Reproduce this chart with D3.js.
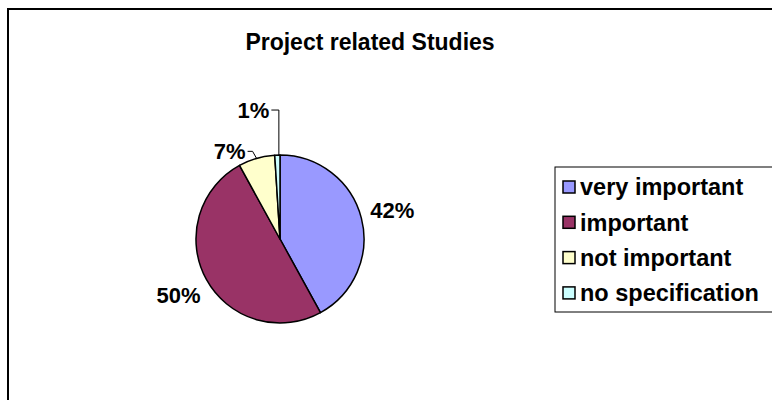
<!DOCTYPE html>
<html><head><meta charset="utf-8">
<script src="https://cdn.jsdelivr.net/npm/d3@7/dist/d3.min.js"></script>
<style>body{margin:0;background:#fff}svg{display:block}text{font-family:"Liberation Sans",Arial,sans-serif;font-weight:bold;fill:#000}</style>
</head><body>
<svg id="c" width="772" height="400"></svg>
<script>
const title = "Project related Studies";
const categories = ["very important", "important", "not important", "no specification"];
const values = [42, 50, 7, 1];
const colors = ["#9999FF", "#993366", "#FFFFCC", "#CCFFFF"];

const svg = d3.select("#c");
// outer frame (extends beyond the picture right and bottom)
svg.append("rect").attr("x", 8).attr("y", 9).attr("width", 800).attr("height", 420)
  .attr("fill", "#fff").attr("stroke", "#000").attr("stroke-width", 2);

svg.append("text").attr("x", 370).attr("y", 50).attr("text-anchor", "middle")
  .style("font-size", "23px").text(title);

const cx = 280, cy = 239, r = 84;
const pie = d3.pie().sort(null).value(d => d)(values);
const arc = d3.arc().innerRadius(0).outerRadius(r);
const g = svg.append("g").attr("transform", `translate(${cx},${cy})`);
g.selectAll("path").data(pie).join("path")
  .attr("d", arc).attr("fill", (d, i) => colors[i])
  .attr("stroke", "#000").attr("stroke-width", 1.5).attr("stroke-linejoin", "round");

const total = d3.sum(values);
const fmt = v => Math.round(v / total * 100) + "%";
let smallIdx = 0;
pie.forEach((d, i) => {
  const a = (d.startAngle + d.endAngle) / 2;
  const pct = fmt(d.value);
  if (d.value / total >= 0.1) {
    const lr = r * 1.38;
    const x = Math.sin(a) * lr, y = -Math.cos(a) * lr;
    g.append("text").attr("x", x).attr("y", y).attr("dy", "0.35em")
      .attr("text-anchor", "middle").style("font-size", "22px").text(pct);
  } else {
    const ex = Math.sin(a) * r, ey = -Math.cos(a) * r;
    const lift = smallIdx === 0 ? 7 : 45;
    const ly = ey - lift;
    const tx = ex - (smallIdx === 0 ? 10 : 7);
    const elbowX = smallIdx === 0 ? ex - 4 : ex + 1.5;
    g.append("path")
      .attr("d", `M${tx + 1},${ly} L${elbowX},${ly} L${smallIdx === 0 ? ex : elbowX},${ey}`)
      .attr("fill", "none").attr("stroke", "#000").attr("stroke-width", 1);
    g.append("text").attr("x", tx - 1).attr("y", ly).attr("dy", "0.35em")
      .attr("text-anchor", "end").style("font-size", "22px").text(pct);
    smallIdx++;
  }
});

// legend
const lx = 555, ly0 = 167, lw = 230, lh = 145, rowH = 35.3, firstY = 187;
svg.append("rect").attr("x", lx).attr("y", ly0).attr("width", lw).attr("height", lh)
  .attr("fill", "#fff").attr("stroke", "#000").attr("stroke-width", 1);
const lg = svg.append("g");
categories.forEach((c, i) => {
  const y = firstY + i * rowH;
  lg.append("rect").attr("x", 563).attr("y", y - 6).attr("width", 12).attr("height", 12)
    .attr("fill", colors[i]).attr("stroke", "#000").attr("stroke-width", 1.5);
  lg.append("text").attr("x", 580).attr("y", y).attr("dy", "0.35em")
    .style("font-size", "23.5px").text(c);
});
</script>
</body></html>
